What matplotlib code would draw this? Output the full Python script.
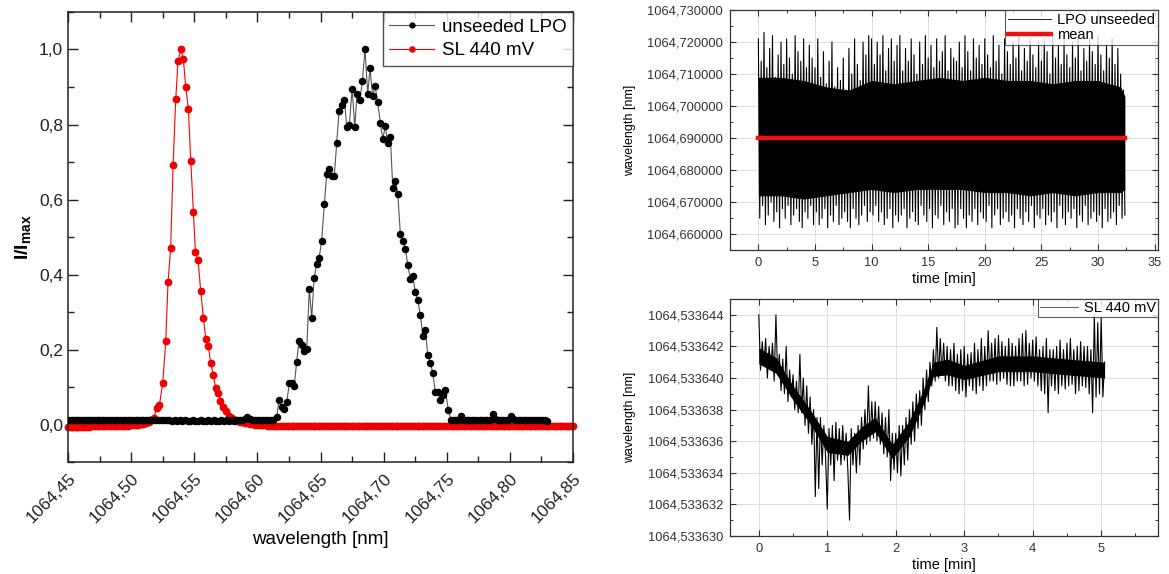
import numpy as np
import matplotlib
matplotlib.use('Agg')
import matplotlib.pyplot as plt
from matplotlib.ticker import MultipleLocator, FuncFormatter

plt.rcParams['font.family'] = ['Liberation Sans', 'DejaVu Sans']
plt.rcParams['mathtext.fontset'] = 'custom'
plt.rcParams['mathtext.rm'] = 'Liberation Sans'
plt.rcParams['mathtext.it'] = 'Liberation Sans:italic'
plt.rcParams['mathtext.bf'] = 'Liberation Sans:bold'

# ---------------- data: left panel (normalised spectra) ----------------
wl_step = 0.00206
# unseeded LPO
lpo_left_start = 1064.4500
lpo_left_I = [0.012, 0.011, 0.012, 0.011, 0.011, 0.012, 0.011, 0.011, 0.012, 0.011,
              0.011, 0.012, 0.011, 0.011, 0.012, 0.011, 0.012, 0.011, 0.011, 0.012,
              0.011, 0.011, 0.012, 0.013, 0.011, 0.011, 0.012, 0.011, 0.011, 0.012,
              0.011, 0.012, 0.011, 0.011, 0.012, 0.011, 0.011, 0.012, 0.011, 0.011,
              0.010, 0.011, 0.010, 0.011, 0.010, 0.011, 0.010, 0.010, 0.011, 0.010,
              0.010, 0.011, 0.010, 0.010, 0.011, 0.010, 0.011, 0.010, 0.010, 0.011,
              0.010, 0.011, 0.010, 0.011, 0.010, 0.011, 0.011, 0.012, 0.014, 0.021,
              0.014, 0.011, 0.011, 0.012, 0.011, 0.011, 0.012, 0.011, 0.012, 0.013]
lpo_peak_wl = [1064.6153, 1064.6171, 1064.6193, 1064.6213, 1064.6232, 1064.6253, 1064.6274,
               1064.6292, 1064.6311, 1064.6330, 1064.6351, 1064.6372, 1064.6391, 1064.6411,
               1064.6430, 1064.6449, 1064.6470, 1064.6488, 1064.6509, 1064.6530, 1064.6549,
               1064.6567, 1064.6589, 1064.6609, 1064.6628, 1064.6647, 1064.6668, 1064.6689,
               1064.6708, 1064.6728, 1064.6750, 1064.6771, 1064.6789, 1064.6811, 1064.6831,
               1064.6852, 1064.6874, 1064.6892, 1064.6913, 1064.6932, 1064.6953, 1064.6974,
               1064.6993, 1064.7013, 1064.7032, 1064.7053, 1064.7072, 1064.7093, 1064.7112,
               1064.7132, 1064.7151, 1064.7172, 1064.7191, 1064.7211, 1064.7230, 1064.7251,
               1064.7270, 1064.7291, 1064.7310, 1064.7331, 1064.7349, 1064.7370, 1064.7389,
               1064.7409, 1064.7430, 1064.7449, 1064.7468, 1064.7489, 1064.7512]
lpo_peak_I = [0.019, 0.066, 0.048, 0.041, 0.059, 0.110, 0.110,
              0.104, 0.168, 0.223, 0.211, 0.195, 0.202, 0.362,
              0.285, 0.390, 0.428, 0.443, 0.490, 0.587, 0.667,
              0.682, 0.664, 0.664, 0.752, 0.836, 0.851, 0.864,
              0.793, 0.799, 0.895, 0.793, 0.882, 0.864, 0.915,
              1.000, 0.882, 0.950, 0.875, 0.903, 0.859, 0.803,
              0.762, 0.795, 0.752, 0.768, 0.632, 0.650, 0.615,
              0.509, 0.490, 0.468, 0.426, 0.389, 0.395, 0.353,
              0.332, 0.291, 0.237, 0.251, 0.186, 0.165, 0.137,
              0.088, 0.088, 0.066, 0.079, 0.092, 0.039]
lpo_right_start = 1064.7533
lpo_right_I = [0.012, 0.011, 0.011, 0.013, 0.024, 0.013, 0.011, 0.012, 0.011, 0.011,
               0.012, 0.011, 0.011, 0.012, 0.011, 0.013, 0.028, 0.014, 0.011, 0.012,
               0.011, 0.011, 0.013, 0.024, 0.014, 0.011, 0.012, 0.011, 0.011, 0.012,
               0.011, 0.011, 0.012, 0.011, 0.011, 0.012, 0.011, 0.010]

# SL 440 mV
sl_left_start = 1064.4500
sl_left_I = [-0.006, -0.006, -0.006, -0.006, -0.006, -0.006, -0.006, -0.006, -0.006, -0.005,
             -0.005, -0.005, -0.005, -0.005, -0.005, -0.005, -0.004, -0.004, -0.004, -0.004,
             -0.004, -0.003, -0.003, -0.003, -0.002, -0.002, -0.001, 0.000, 0.001, 0.002,
             0.004, 0.007, 0.011, 0.018]
sl_peak_wl = [1064.5202, 1064.5223, 1064.5250, 1064.5274, 1064.5292, 1064.5313, 1064.5332,
              1064.5353, 1064.5371, 1064.5393, 1064.5413, 1064.5432, 1064.5453, 1064.5472,
              1064.5493, 1064.5509, 1064.5530, 1064.5551, 1064.5572, 1064.5591, 1064.5611,
              1064.5630, 1064.5651, 1064.5670, 1064.5688, 1064.5707, 1064.5730, 1064.5751,
              1064.5778]
sl_peak_I = [0.044, 0.051, 0.110, 0.223, 0.379, 0.472, 0.691,
             0.867, 0.968, 1.000, 0.975, 0.901, 0.842, 0.704,
             0.568, 0.461, 0.438, 0.355, 0.285, 0.228, 0.210,
             0.164, 0.131, 0.097, 0.085, 0.063, 0.048, 0.035,
             0.023]
sl_right_start = 1064.5799
sl_right_I = ([0.017, 0.013, 0.010, 0.008, 0.006, 0.004, 0.003, 0.002, 0.001, 0.000,
               -0.001, -0.001, -0.002, -0.002, -0.003, -0.003] + [-0.003] * 116)

left_xticks = [1064.45, 1064.50, 1064.55, 1064.60, 1064.65, 1064.70, 1064.75, 1064.80, 1064.85]
left_yticks = [0.0, 0.2, 0.4, 0.6, 0.8, 1.0]

# ---------------- data: top right (LPO unseeded vs time) ----------------
# deviation from the mean wavelength, in pm, sampled every 0.125 min
lpo_mean = 1064.690
lpo_time_step = 0.125
lpo_dev_pm = [
    31, -25, 24, -21, 33, -27, 22, -24, 28, -20, 32, -26, 19, -23, 26, -28, 30, -22, 23, -25,
    31, -21, 25, -27, 20, -24, 32, -22, 27, -26, 24, -28, 31, -23, 22, -25, 29, -21, 25, -27,
    22, -23, 31, -27, 19, -25, 27, -22, 17, -28, 24, -24, 30, -26, 16, -21, 22, -27, 18, -25,
    25, -23, 15, -26, 28, -28, 20, -22, 31, -25, 23, -27, 18, -24, 30, -21, 26, -26, 32, -23,
    31, -24, 23, -21, 30, -26, 26, -23, 32, -27, 21, -25, 28, -22, 31, -28, 24, -24, 29, -26,
    32, -24, 21, -22, 28, -28, 24, -25, 31, -23, 26, -26, 20, -27, 30, -21, 23, -24, 32, -26,
    25, -22, 29, -28, 22, -24, 31, -25, 24, -21, 27, -27, 32, -23, 21, -26, 28, -22, 25, -28,
    24, -27, 30, -22, 22, -25, 32, -28, 27, -24, 21, -26, 31, -22, 25, -27, 29, -23, 23, -25,
    31, -26, 26, -21, 22, -28, 32, -24, 24, -22, 29, -27, 20, -25, 31, -23, 27, -26, 23, -24,
    30, -28, 25, -22, 32, -25, 21, -27, 28, -23, 24, -26, 31, -21, 26, -28, 22, -24, 30, -25,
    24, -22, 31, -27, 27, -24, 20, -26, 32, -23, 25, -28, 29, -21, 23, -25, 31, -27, 26, -23,
    22, -25, 30, -22, 25, -28, 32, -24, 21, -26, 28, -21, 24, -27, 31, -25, 27, -23, 23, -26,
    32, -24, 26, -28, 21, -22, 29, -26, 25, -25, 31, -23, 23, -27, 28, -21, 20, -25, 15, -24]
# dense (fully dark) part of the trace, pm from the mean
lpo_core_t = [0, 2, 4, 6, 8, 10, 12, 14, 16, 18, 20, 22, 24, 26, 28, 30, 32, 32.375]
lpo_core_hi = [19, 19, 18, 16, 15, 18, 17, 18, 19, 18, 19, 18, 18, 17, 18, 18, 16, 13]
lpo_core_lo = [-18, -18, -19, -18, -17, -16, -17, -16, -16, -16, -17, -17, -18, -17, -18, -17,
               -17, -16]

# ---------------- data: bottom right (SL 440 mV vs time) ----------------
sl_base = 1064.533630          # nm
sl_time_step = 0.025           # min
# deviation above sl_base in fm (1e-6 nm)
sl_dev_fm = [
    14.0, 10.5, 12.3, 10.8, 12.5, 10.0, 12.0, 10.6, 12.2, 9.8, 14.0, 10.2,
    11.5, 9.2, 11.2, 9.0, 12.0, 8.5, 10.5, 8.8, 10.2, 8.0, 9.8, 7.8,
    11.5, 7.8, 10.0, 7.0, 9.5, 6.5, 8.8, 5.8, 8.0, 2.5, 7.5, 3.0,
    7.5, 4.5, 7.0, 5.0, 1.7, 6.8, 4.5, 7.0, 3.5, 7.2, 4.8, 6.8,
    4.5, 7.0, 4.8, 6.5, 4.2, 1.0, 6.8, 4.5, 6.5, 4.0, 7.0, 4.5,
    7.5, 5.5, 8.0, 5.8, 9.5, 6.0, 8.5, 6.2, 8.5, 6.0, 8.2, 5.8,
    7.8, 5.2, 7.5, 5.0, 8.0, 3.5, 6.5, 4.2, 6.5, 4.0, 7.0, 3.8,
    7.0, 4.5, 7.5, 4.8, 8.0, 5.8, 8.5, 6.0, 9.0, 6.8, 9.2, 7.0,
    10.0, 8.0, 10.5, 8.5, 11.0, 9.5, 11.8, 9.8, 13.2, 10.0, 12.5, 10.2,
    12.2, 9.8, 12.0, 9.5, 11.8, 9.5, 12.2, 9.2, 11.5, 9.0, 11.8, 9.2,
    12.0, 8.8, 11.5, 9.5, 11.6, 9.2, 12.2, 9.0, 11.8, 9.5, 12.5, 9.2,
    12.0, 9.5, 13.0, 9.8, 12.2, 9.8, 12.5, 9.6, 12.7, 9.8, 12.3, 10.0,
    12.0, 9.6, 12.5, 9.5, 12.2, 9.5, 12.0, 9.8, 12.5, 9.8, 12.8, 9.5,
    13.0, 9.6, 12.2, 10.0, 12.4, 9.8, 12.6, 9.5, 11.8, 9.2, 12.0, 9.0,
    12.5, 7.8, 11.8, 9.5, 11.8, 9.2, 12.0, 9.0, 12.4, 9.5, 11.8, 9.3,
    12.2, 9.5, 12.5, 9.6, 11.8, 9.0, 12.0, 9.2, 12.3, 9.5, 12.0, 9.4,
    12.0, 9.0, 11.8, 7.8, 14.0, 8.8, 13.5, 9.0, 13.8, 8.8, 11.0]
# dense (fully dark) part of the trace, fm above sl_base
sl_core_t = [0, 0.25, 0.5, 0.75, 1.0, 1.3, 1.5, 1.7, 1.95, 2.2, 2.4, 2.55, 2.75, 3.0,
             3.5, 4.0, 4.5, 5.05]
sl_core_lo = [10.9, 10.3, 8.6, 7.1, 5.3, 5.1, 6.0, 6.6, 4.9, 6.3, 8.3, 10.1, 10.2, 9.9,
              10.4, 10.4, 10.2, 10.0]
sl_core_hi = [11.9, 11.3, 9.5, 8.0, 6.3, 6.0, 6.9, 7.5, 5.8, 7.3, 9.2, 11.0, 11.2, 10.8,
              11.4, 11.4, 11.2, 11.0]


def comma(fmt):
    return FuncFormatter(lambda v, p: fmt.format(v).replace('.', ','))


fig = plt.figure(figsize=(11.69, 5.74), dpi=100)

# ================= left panel =================
ax = fig.add_axes([0.0582, 0.1951, 0.4320, 0.7840])
lpo_x = np.concatenate([lpo_left_start + wl_step * np.arange(len(lpo_left_I)),
                        lpo_peak_wl,
                        lpo_right_start + wl_step * np.arange(len(lpo_right_I))])
lpo_y = np.concatenate([lpo_left_I, lpo_peak_I, lpo_right_I])
sl_x = np.concatenate([sl_left_start + wl_step * np.arange(len(sl_left_I)),
                       sl_peak_wl,
                       sl_right_start + wl_step * np.arange(len(sl_right_I))])
sl_y = np.concatenate([sl_left_I, sl_peak_I, sl_right_I])

l_sl, = ax.plot(sl_x, sl_y, '-o', color='#ff0000', lw=0.8, ms=4.6, mec='#ee0000',
                mfc='#ee0000', label='SL 440 mV', zorder=2, clip_on=False)
l_lpo, = ax.plot(lpo_x, lpo_y, '-o', color='#555555', lw=0.8, ms=4.4, mec='black',
                 mfc='black', label='unseeded LPO', zorder=3)
ax.set_xlim(1064.45, 1064.85)
ax.set_ylim(-0.1, 1.1)
ax.set_xticks(left_xticks)
ax.set_xticklabels([('%.2f' % v).replace('.', ',') for v in left_xticks],
                   rotation=45, ha='right', va='top', rotation_mode='anchor')
ax.xaxis.set_minor_locator(MultipleLocator(0.025))
ax.set_yticks(left_yticks)
ax.yaxis.set_major_formatter(comma('{:.1f}'))
ax.yaxis.set_minor_locator(MultipleLocator(0.1))
ax.tick_params(which='both', direction='in', top=True, right=True, labelsize=12.5,
               width=1.0, colors='#222222')
ax.tick_params(which='major', length=7)
ax.tick_params(which='minor', length=4)
ax.tick_params(axis='x', pad=6)
for s in ax.spines.values():
    s.set_linewidth(1.1)
    s.set_color('#222222')
ax.set_xlabel('wavelength [nm]', fontsize=13.5, labelpad=4)
ax.set_ylabel(r'I/I$_{\mathregular{max}}$', fontsize=14, fontweight='bold', labelpad=4)
leg = ax.legend(handles=[l_lpo, l_sl], loc='upper right', borderaxespad=0, fontsize=13.5,
                frameon=True, fancybox=False, edgecolor='#222222', handlelength=2.4,
                handletextpad=0.4, borderpad=0.35, labelspacing=0.35, markerscale=0.8)
leg.get_frame().set_linewidth(1.0)

# ================= top right =================
ax2 = fig.add_axes([0.6245, 0.5645, 0.3661, 0.4181])
lpo_time = lpo_time_step * np.arange(len(lpo_dev_pm))
lpo_wl = lpo_mean + np.array(lpo_dev_pm) * 1e-3
ax2.fill_between(lpo_core_t, lpo_mean + np.array(lpo_core_lo) * 1e-3,
                 lpo_mean + np.array(lpo_core_hi) * 1e-3, color='black', lw=0, zorder=2)
l2, = ax2.plot(lpo_time, lpo_wl, color='black', lw=0.8, label='LPO unseeded', zorder=2)
l2m, = ax2.plot([lpo_time[0], lpo_time[-1]], [lpo_mean, lpo_mean], color='#ee1111', lw=3.2,
                label='mean', zorder=3)
ax2.set_xlim(-2.5, 35.3)
ax2.set_ylim(1064.6551, 1064.730)
ax2.xaxis.set_major_locator(MultipleLocator(5))
ax2.xaxis.set_minor_locator(MultipleLocator(2.5))
ax2.yaxis.set_major_locator(MultipleLocator(0.01))
ax2.yaxis.set_minor_locator(MultipleLocator(0.005))
ax2.yaxis.set_major_formatter(comma('{:.6f}'))
ax2.set_xlabel('time [min]', fontsize=10.5, labelpad=2)
ax2.set_ylabel('wavelength [nm]', fontsize=9, labelpad=8)
l2_leg, = ax2.plot([], [], color='black', lw=0.6, label='LPO unseeded')
leg2 = ax2.legend(handles=[l2_leg, l2m], loc='upper right', borderaxespad=0, fontsize=10.5,
                  frameon=True, fancybox=False, edgecolor='#333333', handlelength=3.0,
                  handletextpad=0.4, borderpad=0.2, labelspacing=0.1)
leg2.get_frame().set_linewidth(0.8)

# ================= bottom right =================
ax3 = fig.add_axes([0.6245, 0.0662, 0.3661, 0.4129])
sl_time = sl_time_step * np.arange(len(sl_dev_fm))
sl_wl = sl_base + np.array(sl_dev_fm) * 1e-6
ax3.fill_between(sl_core_t, sl_base + np.array(sl_core_lo) * 1e-6,
                 sl_base + np.array(sl_core_hi) * 1e-6, color='black', lw=0, zorder=2)
l3, = ax3.plot(sl_time, sl_wl, color='black', lw=0.8, label='SL 440 mV', zorder=2)
ax3.set_xlim(-0.42, 5.83)
ax3.set_ylim(1064.533630, 1064.533645)
ax3.xaxis.set_major_locator(MultipleLocator(1))
ax3.xaxis.set_minor_locator(MultipleLocator(0.5))
ax3.yaxis.set_major_locator(MultipleLocator(2e-6))
ax3.yaxis.set_minor_locator(MultipleLocator(1e-6))
ax3.yaxis.set_major_formatter(comma('{:.6f}'))
ax3.set_xlabel('time [min]', fontsize=10.5, labelpad=2)
ax3.set_ylabel('wavelength [nm]', fontsize=9, labelpad=8)
l3_leg, = ax3.plot([], [], color='#444444', lw=0.6, label='SL 440 mV')
leg3 = ax3.legend(handles=[l3_leg], loc='upper right', borderaxespad=0, fontsize=10.5,
                  frameon=True, fancybox=False, edgecolor='#333333', handlelength=2.6,
                  handletextpad=0.4, borderpad=0.15)
leg3.get_frame().set_linewidth(0.8)

for a in (ax2, ax3):
    a.grid(True, which='major', color='#dddddd', lw=0.7, zorder=0)
    a.set_axisbelow(True)
    a.tick_params(which='both', direction='in', top=True, right=True, labelsize=9.3,
                  colors='#333333', pad=5)
    a.tick_params(which='major', length=4, width=0.8)
    a.tick_params(which='minor', length=2.5, width=0.7)
    for s in a.spines.values():
        s.set_linewidth(0.9)
        s.set_color('#333333')

fig.savefig('out.png', dpi=100)
